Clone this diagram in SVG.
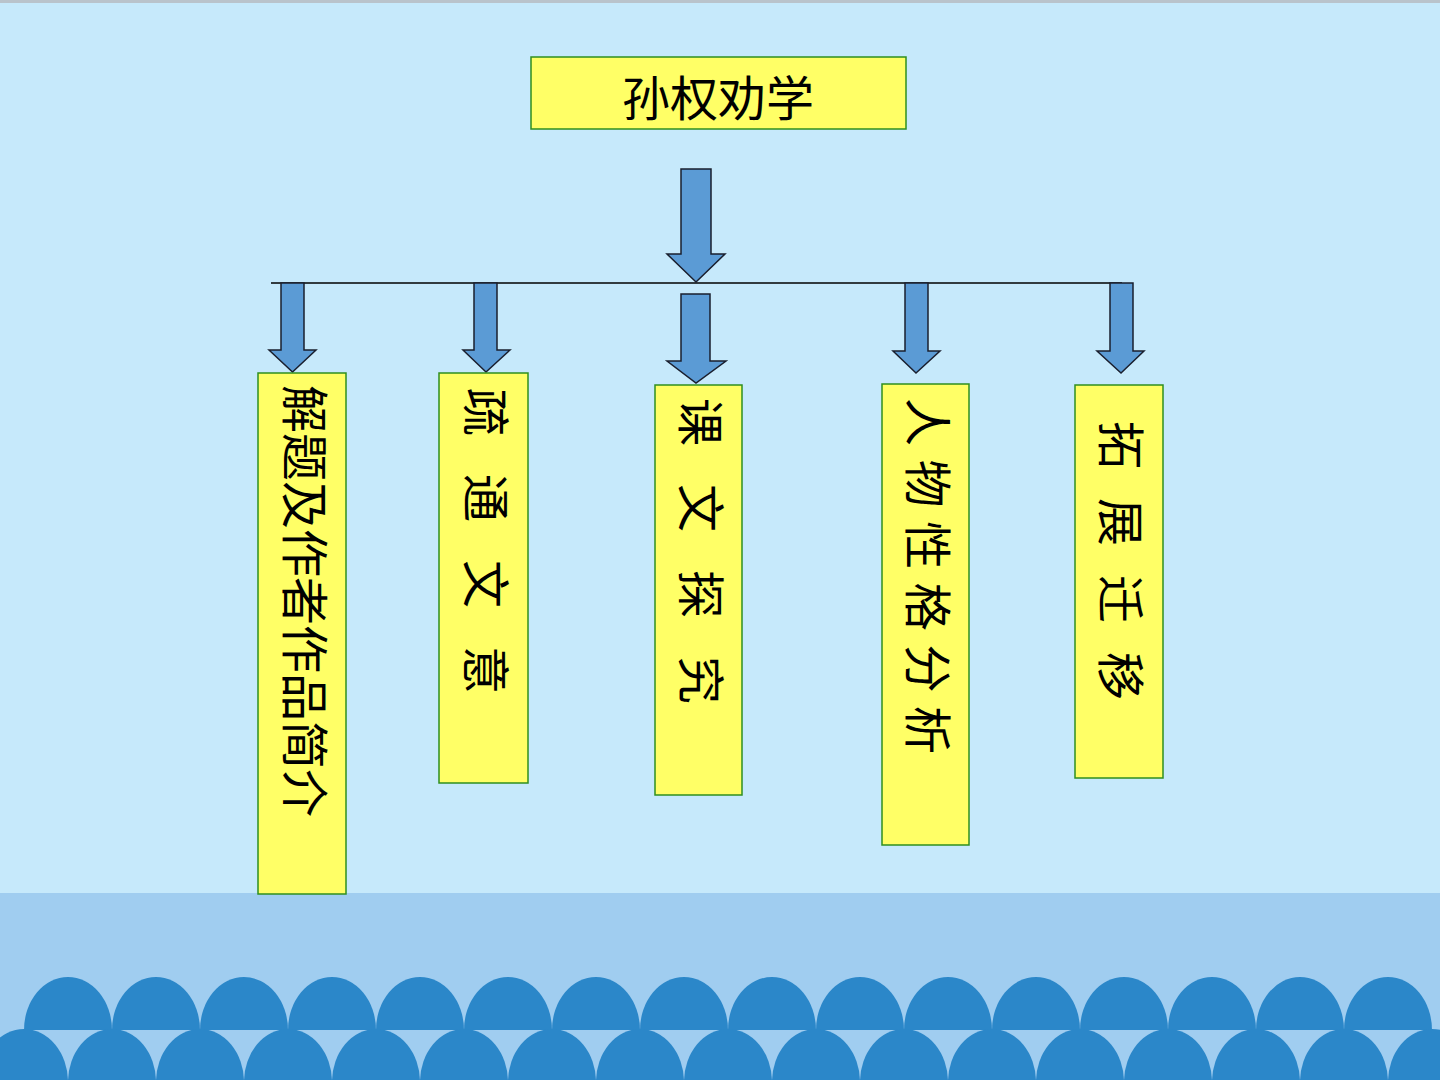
<svg xmlns="http://www.w3.org/2000/svg" width="1440" height="1080" viewBox="0 0 1440 1080">
<style>
.box{fill:#ffff66;stroke:#2f8f1f;stroke-width:1.5}
.arrow{fill:#5b9bd5;stroke:#1a1f2e;stroke-width:1.5;stroke-linejoin:miter}
.wave{fill:#2b87c9}
.t{font-family:"Noto Sans CJK SC","Noto Sans CJK TC",sans-serif;font-size:48px;fill:#000}
.v{dominant-baseline:central}
</style>
<defs>
<path id="bump" d="M-44,0 A44 53 0 0 1 44,0 Z"/>
</defs>
<g id="background">
<rect x="0" y="0" width="1440" height="1080" fill="#c6e9fb"/>
<rect x="0" y="0" width="1440" height="3" fill="#b9c3cb"/>
<rect x="0" y="893" width="1440" height="187" fill="#a0cdf0"/>
<g id="waves-top" class="wave">
<use href="#bump" x="68" y="1030"/><use href="#bump" x="156" y="1030"/><use href="#bump" x="244" y="1030"/><use href="#bump" x="332" y="1030"/>
<use href="#bump" x="420" y="1030"/><use href="#bump" x="508" y="1030"/><use href="#bump" x="596" y="1030"/><use href="#bump" x="684" y="1030"/>
<use href="#bump" x="772" y="1030"/><use href="#bump" x="860" y="1030"/><use href="#bump" x="948" y="1030"/><use href="#bump" x="1036" y="1030"/>
<use href="#bump" x="1124" y="1030"/><use href="#bump" x="1212" y="1030"/><use href="#bump" x="1300" y="1030"/><use href="#bump" x="1388" y="1030"/>
</g>
<g id="waves-bottom" class="wave">
<use href="#bump" x="24" y="1082"/><use href="#bump" x="112" y="1082"/><use href="#bump" x="200" y="1082"/><use href="#bump" x="288" y="1082"/>
<use href="#bump" x="376" y="1082"/><use href="#bump" x="464" y="1082"/><use href="#bump" x="552" y="1082"/><use href="#bump" x="640" y="1082"/>
<use href="#bump" x="728" y="1082"/><use href="#bump" x="816" y="1082"/><use href="#bump" x="904" y="1082"/><use href="#bump" x="992" y="1082"/>
<use href="#bump" x="1080" y="1082"/><use href="#bump" x="1168" y="1082"/><use href="#bump" x="1256" y="1082"/><use href="#bump" x="1344" y="1082"/>
<use href="#bump" x="1432" y="1082"/>
</g>
</g>
<g id="connectors">
<line x1="271" y1="283" x2="1122" y2="283" stroke="#000" stroke-width="1.5"/>
<path class="arrow" d="M681,169 H711 V254 H725 L696,282 L667,254 H681 Z"/>
<path class="arrow" d="M281,283 H304 V350 H316 L292.5,372 L269,350 H281 Z"/>
<path class="arrow" d="M474,283 H497 V350 H510 L486,372 L463,350 H474 Z"/>
<path class="arrow" d="M681,294 H710 V361 H726 L696,383 L667,361 H681 Z"/>
<path class="arrow" d="M905,283 H928 V351 H940 L916,373 L893,351 H905 Z"/>
<path class="arrow" d="M1110,283 H1133 V351 H1144 L1121,373 L1097,351 H1110 Z"/>
</g>
<g id="node-title">
<rect class="box" x="531" y="57" width="375" height="72"/>
<text class="t v" x="718" y="95" text-anchor="middle">孙权劝学</text>
</g>
<g id="node-1">
<rect class="box" x="258" y="373" width="88" height="521"/>
<text class="t v" transform="translate(308,385) rotate(90)" x="0">解题及作者作品简介</text>
</g>
<g id="node-2">
<rect class="box" x="439" y="373" width="89" height="410"/>
<text class="t v" transform="translate(489,388) rotate(90)" x="0 43 86 129 172 215 258" font-size="46">疏 通 文 意</text>
</g>
<g id="node-3">
<rect class="box" x="655" y="385" width="87" height="410"/>
<text class="t v" transform="translate(704,398) rotate(90)" x="0 43 86 129 172 215 258" font-size="46">课 文 探 究</text>
</g>
<g id="node-4">
<rect class="box" x="882" y="384" width="87" height="461"/>
<text class="t v" transform="translate(931,398) rotate(90)" x="0 61.6 123.2 184.8 246.4 308">人物性格分析</text>
</g>
<g id="node-5">
<rect class="box" x="1075" y="385" width="88" height="393"/>
<text class="t v" transform="translate(1124,421) rotate(90)" x="0 38.5 77 115.5 154 192.5 231">拓 展 迁 移</text>
</g>
</svg>
